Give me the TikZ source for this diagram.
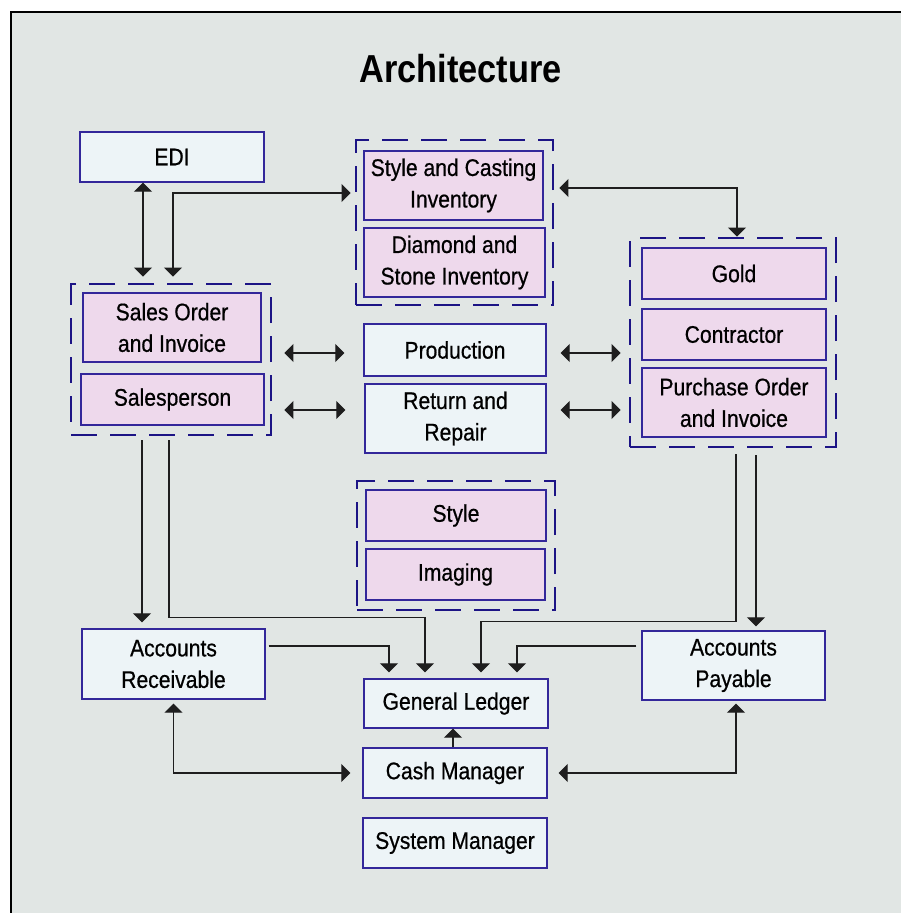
\documentclass[tikz,border=0pt]{standalone}
\usepackage{fontspec}
\setmainfont{Liberation Sans}[FakeStretch=0.88, UprightFeatures={FakeBold=0.6}]
\usetikzlibrary{arrows.meta,calc}

\definecolor{bgcol}{HTML}{E1E6E4}
\definecolor{bluefill}{HTML}{EDF4F7}
\definecolor{pinkfill}{HTML}{EED9EC}
\definecolor{boxline}{HTML}{33279A}
\definecolor{grpline}{HTML}{1C1485}
\definecolor{connline}{HTML}{1E1E1E}

\tikzset{ftip/.tip={Triangle[length=9pt,width=18pt]}}

\begin{document}
\begin{tikzpicture}[x=1pt,y=-1pt,
  box/.style={draw=boxline, line width=1.3pt, inner sep=0pt, minimum width=182pt,
    align=center, font=\fontsize{24}{31.5}\selectfont},
  plainbox/.style={box, fill=bluefill},
  pinkbox/.style={box, fill=pinkfill},
  group/.style={draw=grpline, line width=2.8pt, dash pattern=on 26pt off 13pt, inner sep=0pt},
  conn/.style={draw=connline, line width=1.2pt}]

\useasboundingbox (0,0) rectangle (901,913);
\fill[white] (-10,-10) rectangle (915,925);
\fill[bgcol] (11,12) rectangle (915,925);
\draw[line width=2pt] (11,925) -- (11,12) -- (915,12);

\node[font=\bfseries\fontsize{39}{39}\selectfont, anchor=base] (title) at (460.5,82) {Architecture};

% top row
\node[plainbox, minimum width=184pt, minimum height=50pt] (edi) at (172,157) {EDI};
\node[group, minimum width=197pt, minimum height=165pt] (grpinv) at (454.5,222.5) {};
\node[pinkbox, minimum width=179pt, minimum height=69pt] (stylecast) at (453.5,185.5) {Style and Casting\\Inventory};
\node[pinkbox, minimum width=181pt, minimum height=69pt] (diamond) at (454.5,262.5) {Diamond and\\Stone Inventory};

% sales side
\node[group, minimum width=200pt, minimum height=151pt] (grpsales) at (171,359.5) {};
\node[pinkbox, minimum width=178pt, minimum height=69pt] (salesorder) at (172,327.5) {Sales Order\\and Invoice};
\node[pinkbox, minimum width=183pt, minimum height=51pt] (salesperson) at (172.5,399.5) {Salesperson};

% middle
\node[plainbox, minimum height=52pt] (production) at (455,350) {Production};
\node[plainbox, minimum width=181pt, minimum height=69pt] (repair) at (455.5,418.5) {Return and\\Repair};
\node[group, minimum width=198pt, minimum height=129pt] (grpstyle) at (456,545.5) {};
\node[pinkbox, minimum width=180pt, minimum height=51pt] (style) at (456,515.5) {Style};
\node[pinkbox, minimum width=179pt, minimum height=51pt] (imaging) at (455.5,574.5) {Imaging};

% purchase side
\node[group, minimum width=206pt, minimum height=209pt] (grppur) at (733,342.5) {};
\node[pinkbox, minimum width=184pt, minimum height=51pt] (gold) at (734,273.5) {Gold};
\node[pinkbox, minimum width=184pt, minimum height=51pt] (contractor) at (734,334.5) {Contractor};
\node[pinkbox, minimum width=184pt, minimum height=69pt] (purchase) at (734,402.5) {Purchase Order\\and Invoice};

% accounting
\node[plainbox, minimum width=183pt, minimum height=70pt] (receivable) at (173.5,664) {Accounts\\Receivable};
\node[plainbox, minimum width=183pt, minimum height=69pt] (payable) at (733.5,665.5) {Accounts\\Payable};
\node[plainbox, minimum width=184pt, minimum height=49pt] (ledger) at (456,703.5) {General Ledger};
\node[plainbox, minimum width=184pt, minimum height=50pt] (cash) at (455,773) {Cash Manager};
\node[plainbox, minimum width=184pt, minimum height=50pt] (sysmgr) at (455,843) {System Manager};

\draw[conn, ftip-ftip, shorten >=6pt] ($(edi.south)+(-29,0)$) -- ($(edi.south |- grpsales.north)+(-29,0)$);
\draw[conn, ftip-ftip, shorten <=6pt, shorten >=4pt] ($(grpsales.north)+(2,0)$) |- ($(grpinv.west)+(0,-29.5)$);
\draw[conn, ftip-ftip, shorten <=5pt] ($(grpinv.east)+(0,-34.5)$) -| ($(grppur.north)+(4,0)$);

\draw[conn, ftip-ftip, shorten <=12pt, shorten >=19pt] ($(grpsales.east |- production.west)+(0,3)$) -- ($(production.west)+(0,3)$);
\draw[conn, ftip-ftip, shorten <=12pt, shorten >=19pt] ($(grpsales.east |- repair.west)+(0,-8.5)$) -- ($(repair.west)+(0,-8.5)$);
\draw[conn, ftip-ftip, shorten <=14pt, shorten >=8pt] ($(production.east)+(0,3)$) -- ($(grppur.west |- production.east)+(0,3)$);
\draw[conn, ftip-ftip, shorten <=14pt, shorten >=8pt] ($(repair.east)+(0,-8.5)$) -- ($(grppur.west |- repair.east)+(0,-8.5)$);

\draw[conn, -ftip, shorten <=4pt, shorten >=6pt] ($(grpsales.south)+(-29,0)$) -- ($(grpsales.south |- receivable.north)+(-29,0)$);
\draw[conn, -ftip, shorten <=4pt, shorten >=6pt] ($(grpsales.south)+(-2,0)$) -- ($(grpsales.south |- receivable.north)+(-2,-11)$) -| ($(ledger.north)+(-31,0)$);
\draw[conn, -ftip, shorten <=3pt, shorten >=6pt] ($(receivable.east)+(0,-18)$) -| ($(ledger.north)+(-67,0)$);

\draw[conn, -ftip, shorten <=6pt, shorten >=6pt] ($(grppur.south)+(3,0)$) -- ($(grppur.south |- payable.north)+(3,-9)$) -| ($(ledger.north)+(25,0)$);
\draw[conn, -ftip, shorten <=7pt, shorten >=4pt] ($(grppur.south)+(23,0)$) -- ($(grppur.south |- payable.north)+(23,0)$);
\draw[conn, -ftip, shorten <=5pt, shorten >=6pt] ($(payable.west)+(0,-19.5)$) -| ($(ledger.north)+(61,0)$);

\draw[conn, -ftip] ($(cash.north)+(-2,0)$) -- ($(cash.north |- ledger.south)+(-2,0)$);
\draw[conn, ftip-ftip, shorten <=4pt, shorten >=12pt] (receivable.south) |- (cash.west);
\draw[conn, ftip-ftip, shorten <=11pt, shorten >=3pt] (cash.east) -| ($(payable.south)+(2.5,0)$);
\end{tikzpicture}
\end{document}
